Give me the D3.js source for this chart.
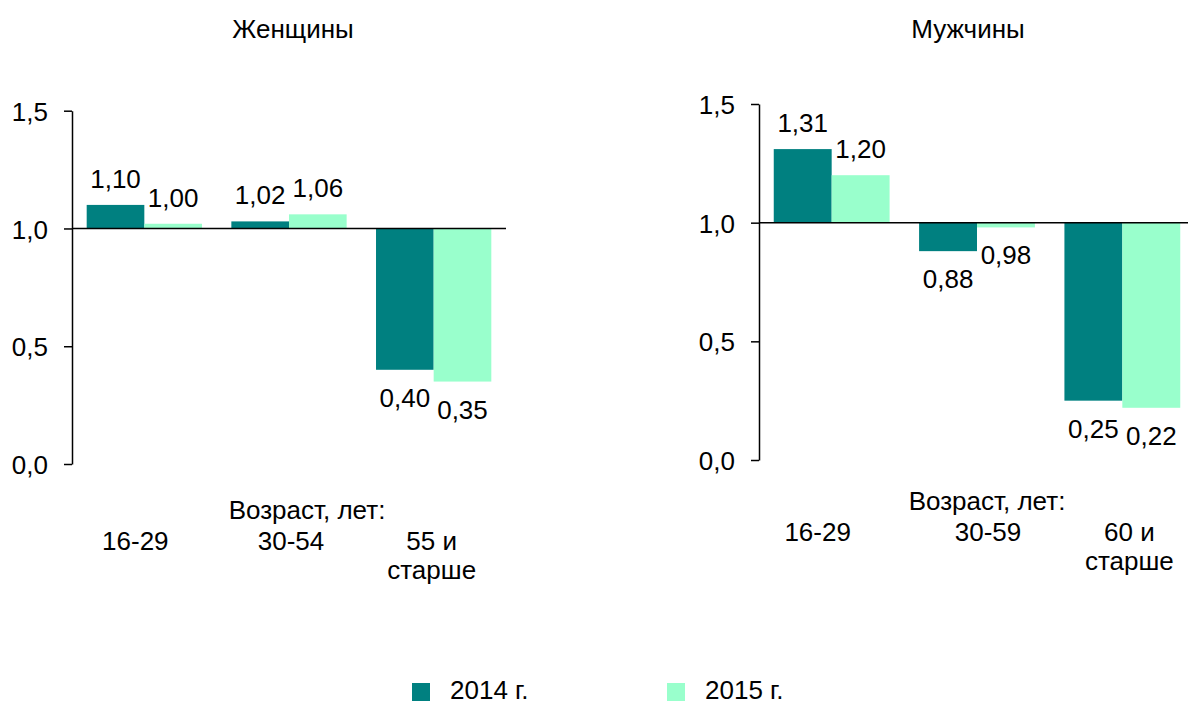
<!DOCTYPE html>
<html>
<head>
<meta charset="utf-8">
<script src="https://cdn.jsdelivr.net/npm/d3@7"></script>
<style>
body{margin:0;background:#fff;}
text{font-family:"Liberation Sans",Arial,sans-serif;fill:#000;}
</style>
</head>
<body>
<svg id="chart" width="1188" height="704"></svg>
<script>
// data
const seriesNames = ["2014 г.","2015 г."];
const yTicks = [0,0.5,1.0,1.5];

const womenTitle = "Женщины";
const womenGroups = [["16-29"],["30-54"],["55 и","старше"]];
const women2014 = [1.10,1.03,0.40];
const women2015 = [1.02,1.06,0.35];
const women2014Labels = ["1,10","1,02","0,40"];
const women2015Labels = ["1,00","1,06","0,35"];

const menTitle = "Мужчины";
const menGroups = [["16-29"],["30-59"],["60 и","старше"]];
const men2014 = [1.31,0.88,0.25];
const men2015 = [1.20,0.98,0.22];
const men2014Labels = ["1,31","0,88","0,25"];
const men2015Labels = ["1,20","0,98","0,22"];

const col2014 = "#008080";
const col2015 = "#99ffcc";
const fs = 26;

const svg = d3.select("#chart");
const fmt = d => d3.format(".1f")(d).replace(".",",");

function panel(p){
  const x = d3.scaleBand().domain(d3.range(p.groups.length)).range([p.x0,p.x1]).paddingInner(0.203).paddingOuter(0.1015);
  const x2 = d3.scaleBand().domain([0,1]).range([0,x.bandwidth()]);
  const y = d3.scaleLinear().domain([0,1.5]).range([p.y0,p.y1]);
  const g = svg.append("g");

  g.append("text").text(p.title).attr("x",p.titleX).attr("y",38)
    .attr("text-anchor","middle").style("font-size",fs+"px");

  const series = [
    {vals:p.a, labels:p.aLab, col:col2014},
    {vals:p.b, labels:p.bLab, col:col2015}
  ];
  series.forEach((s,si)=>{
    g.selectAll(null).data(s.vals).enter().append("rect")
      .attr("x",(d,i)=>x(i)+x2(si))
      .attr("width",x2.bandwidth())
      .attr("y",d=>Math.min(y(d),y(1)))
      .attr("height",d=>Math.abs(y(d)-y(1)))
      .style("fill",s.col);
    g.selectAll(null).data(s.vals).enter().append("text")
      .text((d,i)=>s.labels[i])
      .attr("x",(d,i)=>x(i)+x2(si)+x2.bandwidth()/2)
      .attr("y",d=> d>=1 ? y(d)-17 : y(d)+37)
      .attr("text-anchor","middle").style("font-size",fs+"px");
  });

  // baseline at 1,0
  g.append("line").attr("x1",p.x0).attr("x2",p.x1).attr("y1",y(1)).attr("y2",y(1))
    .style("stroke","#000").style("stroke-width",1.5);

  const ax = g.append("g").attr("transform",`translate(${p.x0},0)`)
    .call(d3.axisLeft(y).tickValues(yTicks).tickFormat(fmt).tickSize(8).tickSizeOuter(0).tickPadding(16));
  ax.select(".domain").style("stroke","#000").style("stroke-width",1.5);
  ax.selectAll(".tick line").style("stroke","#000").style("stroke-width",1.5);
  ax.selectAll(".tick text").style("font-size",fs+"px").attr("dy","0.37em").style("font-family",null);

  g.append("text").text("Возраст, лет:").attr("x",p.ageX).attr("y",p.ageY)
    .attr("text-anchor","middle").style("font-size",fs+"px");

  p.groups.forEach((lines,i)=>{
    const cx = x(i)+x.bandwidth()/2+p.catShift[i];
    const t = g.append("text").attr("text-anchor","middle").style("font-size",fs+"px")
      .attr("x",cx).attr("y",p.catY);
    lines.forEach((l,k)=>t.append("tspan").attr("x",cx).attr("dy",k?29:0).text(l));
  });
}

panel({title:womenTitle,titleX:293,groups:womenGroups,a:women2014,b:women2015,aLab:women2014Labels,bLab:women2015Labels,
  x0:72,x1:506,y0:464,y1:110.7,ageX:307,ageY:519,catY:550,catShift:[-9,2,-2]});
panel({title:menTitle,titleX:968,groups:menGroups,a:men2014,b:men2015,aLab:men2014Labels,bLab:men2015Labels,
  x0:759,x1:1195,y0:460,y1:104,ageX:987,ageY:510,catY:541,catShift:[-14,11,7]});

// legend
const leg = svg.append("g");
const legX = [412,667];
seriesNames.forEach((n,i)=>{
  leg.append("rect").attr("x",legX[i]).attr("y",683).attr("width",18).attr("height",18)
    .style("fill",i?col2015:col2014);
  leg.append("text").text(n).attr("x",legX[i]+38).attr("y",699).style("font-size",fs+"px");
});
</script>
</body>
</html>
